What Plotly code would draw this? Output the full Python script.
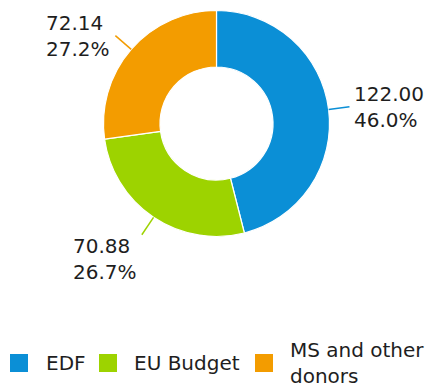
import math
import plotly.graph_objects as go

# Funding sources
labels = ["EDF", "EU Budget", "MS and other donors"]
legend_texts = ["EDF", "EU Budget", "MS and other<br>donors"]
values = [122.00, 70.88, 72.14]
colors = ["#0b8fd6", "#9dd300", "#f39c00"]

W, H = 433, 387
CX, CY = 216.5, 123.5      # pie centre in pixels
R = 113.0                  # outer radius in pixels
HOLE = 0.5
TICK = 21.0                # leader line length
FONT = dict(family="DejaVu Sans", size=20, color="#1e1e1e")

# label placement per slice: (xanchor, yanchor, pixel gap from tick end, extra y shift)
label_style = [("left", "middle", 3, 0), ("right", "top", 3, -3), ("right", "middle", 3, 0)]

# legend layout: (swatch left x, text left x) in pixels, row centre y
legend_pos = [(10, 44), (99, 132), (255, 288)]
LEG_Y = 363
SW = 18


def px(x):
    return x / W


def py(y):
    return 1 - y / H


fig = go.Figure(
    go.Pie(
        labels=labels,
        values=values,
        hole=HOLE,
        sort=False,
        direction="clockwise",
        rotation=0,
        marker=dict(colors=colors, line=dict(color="white", width=1.2)),
        textinfo="none",
        hoverinfo="label+value+percent",
        showlegend=False,
        domain=dict(x=[px(CX - R), px(CX + R)], y=[py(CY + R), py(CY - R)]),
    )
)

total = sum(values)
shapes, annotations = [], []
cum = 0.0
for v, c, (xa, ya, gap, dy) in zip(values, colors, label_style):
    mid = (cum + v / 2) / total * 2 * math.pi
    cum += v
    sx, sy = math.sin(mid), -math.cos(mid)
    x0, y0 = CX + R * sx, CY + R * sy
    x1, y1 = CX + (R + TICK) * sx, CY + (R + TICK) * sy
    shapes.append(dict(type="line", xref="paper", yref="paper",
                       x0=px(x0), y0=py(y0), x1=px(x1), y1=py(y1),
                       line=dict(color=c, width=1.5)))
    tx = x1 + gap if xa == "left" else x1 - gap
    annotations.append(dict(
        xref="paper", yref="paper", x=px(tx), y=py(y1 + dy),
        xanchor=xa, yanchor=ya, align="left", showarrow=False,
        text=f"{v:.2f}<br>{v / total * 100:.1f}%", font=FONT))

# legend: square swatches with text beside them
for (sx0, tx0), c, t in zip(legend_pos, colors, legend_texts):
    shapes.append(dict(type="rect", xref="paper", yref="paper",
                       x0=px(sx0), x1=px(sx0 + SW),
                       y0=py(LEG_Y + SW / 2), y1=py(LEG_Y - SW / 2),
                       fillcolor=c, line=dict(width=0)))
    annotations.append(dict(
        xref="paper", yref="paper", x=px(tx0), y=py(LEG_Y),
        xanchor="left", yanchor="middle", align="left", showarrow=False,
        text=t, font=FONT))

fig.update_layout(
    width=W, height=H, autosize=False,
    margin=dict(l=0, r=0, t=0, b=0),
    paper_bgcolor="white", plot_bgcolor="white",
    shapes=shapes, annotations=annotations,
    font=FONT,
)

fig.write_html("out.html")
